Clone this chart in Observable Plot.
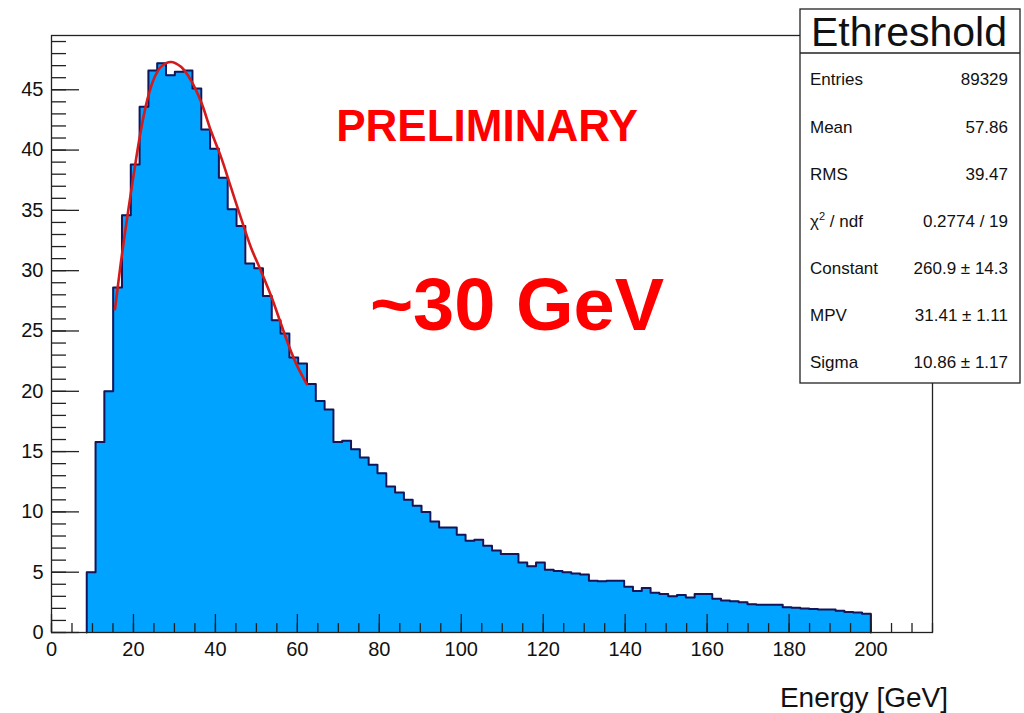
<!DOCTYPE html>
<html><head><meta charset="utf-8">
<script src="https://cdn.jsdelivr.net/npm/d3@7"></script>
<script src="https://cdn.jsdelivr.net/npm/@observablehq/plot@0.6"></script>
<style>html,body{margin:0;padding:0;background:#fff;} #chart{width:1024px;height:713px;}</style>
</head><body><div id="chart"></div>
<script>
// ---- data ----
const histTitle = "Ethreshold";
const histRange = [0, 215];
const nBins = 100;
const firstBin = 4;
const binCounts = [
  5.0, 15.8, 20.0, 28.6, 34.6, 38.8, 43.6, 46.6, 47.2, 46.2,
  46.5, 46.6, 45.1, 41.7, 40.1, 37.7, 35.1, 33.7, 30.6, 30.2,
  27.9, 25.9, 24.8, 22.8, 22.3, 20.6, 19.2, 18.5, 15.8, 15.9,
  15.2, 14.5, 13.9, 13.2, 12.1, 11.6, 11.0, 10.5, 10.0, 9.2,
  8.7, 8.7, 8.1, 7.6, 7.7, 7.2, 6.8, 6.5, 6.5, 5.8,
  5.5, 5.8, 5.2, 5.1, 5.0, 4.9, 4.8, 4.3, 4.25, 4.3,
  4.3, 3.8, 3.45, 3.7, 3.3, 3.2, 3.0, 3.1, 2.9, 3.2,
  3.2, 2.8, 2.65, 2.6, 2.5, 2.35, 2.3, 2.3, 2.3, 2.1,
  2.05, 2.0, 1.95, 1.9, 1.9, 1.8, 1.7, 1.65, 1.55
];
const fitX = [15.5, 16.9, 18.6, 20.2, 21.8, 23.4, 25.1, 26.7, 29.1, 31.6, 34.0, 36.5, 38.9, 41.4, 43.8, 46.2, 48.7, 51.1, 53.6, 56.0, 58.0, 60.1, 62.3];
const fitY = [26.8, 30.6, 34.7, 38.3, 41.6, 44.2, 46.0, 46.9, 47.3, 46.9, 45.8, 44.0, 41.6, 39.4, 36.9, 34.4, 31.9, 30.0, 27.9, 25.6, 23.7, 22.0, 20.6];
const xTickLabels = [0, 20, 40, 60, 80, 100, 120, 140, 160, 180, 200];
const yTickLabels = [0, 5, 10, 15, 20, 25, 30, 35, 40, 45];
const statLabels = ["Entries", "Mean", "RMS", "χ2 / ndf", "Constant", "MPV", "Sigma"];
const statValues = ["89329", "57.86", "39.47", "0.2774 / 19", "260.9 ± 14.3", "31.41 ± 1.11", "10.86 ± 1.17"];
const annotationTexts = ["PRELIMINARY", "~30 GeV"];
const xAxisTitle = "Energy [GeV]";

// ---- layout ----
const W = 1024, H = 713, mL = 51, mR = 92, mT = 35, mB = 81;
const frameW = W - mL - mR, frameH = H - mT - mB;
const FONT = "'Liberation Sans', Arial, Helvetica, sans-serif";
const AXC = "#222";

const binW = (histRange[1] - histRange[0]) / nBins;
const bins = binCounts.map((c, i) => ({
  x1: histRange[0] + (firstBin + i) * binW,
  x2: histRange[0] + (firstBin + i + 1) * binW,
  y: c
}));
const last = bins[bins.length - 1];
const outline = [{x: bins[0].x1, y: 0}, ...bins.map(b => ({x: b.x1, y: b.y})), {x: last.x2, y: last.y}, {x: last.x2, y: 0}];
const fitPts = fitX.map((x, i) => ({x, y: fitY[i]}));

const xMinor = d3.range(0, 216, 5);
const yMinor = d3.range(0, 50, 1);

const svg = Plot.plot({
  width: W, height: H,
  marginLeft: mL, marginRight: mR, marginTop: mT, marginBottom: mB,
  x: {domain: histRange},
  y: {domain: [0, 49.5]},
  style: {fontFamily: FONT, fontSize: "20px", color: "#111", background: "#fff"},
  marks: [
    Plot.areaY(outline, {x: "x", y: "y", curve: "step-after", fill: "#00a3ff"}),
    Plot.line(outline, {x: "x", y: "y", curve: "step-after", stroke: "#15155a", strokeWidth: 2}),
    Plot.line(fitPts, {x: "x", y: "y", curve: "catmull-rom", stroke: "#d41a1a", strokeWidth: 2.6}),
    Plot.ruleY(yMinor, {y: d => d, insetRight: frameW - 15, stroke: AXC, strokeWidth: 1.3}),
    Plot.ruleY(yTickLabels, {y: d => d, insetRight: frameW - 28, stroke: AXC, strokeWidth: 1.3}),
    Plot.ruleX(xMinor, {x: d => d, insetTop: frameH - 9, stroke: AXC, strokeWidth: 1.3}),
    Plot.ruleX(xTickLabels, {x: d => d, insetTop: frameH - 18, stroke: AXC, strokeWidth: 1.3}),
    Plot.frame({stroke: AXC, strokeWidth: 1.3}),
    Plot.axisX({ticks: xTickLabels, tickFormat: d => String(d), tickSize: 0, tickPadding: 9, fontSize: 20, label: null}),
    Plot.axisY({ticks: yTickLabels, tickFormat: d => String(d), tickSize: 0, tickPadding: 8, fontSize: 20, label: null})
  ]
});
document.getElementById("chart").appendChild(svg);

// ---- annotations ----
const s = d3.select(svg);
s.append("text").attr("x", 487).attr("y", 141).attr("text-anchor", "middle")
  .attr("font-family", FONT).attr("font-weight", "bold").attr("font-size", 44).attr("fill", "#ff0000")
  .text(annotationTexts[0]);
s.append("text").attr("x", 517).attr("y", 330).attr("text-anchor", "middle")
  .attr("font-family", FONT).attr("font-weight", "bold").attr("font-size", 74).attr("fill", "#ff0000")
  .text(annotationTexts[1]);
s.append("text").attr("x", 948).attr("y", 707).attr("text-anchor", "end")
  .attr("font-family", FONT).attr("font-size", 28).attr("fill", "#111")
  .text(xAxisTitle);

// stats box
const box = s.append("g").attr("font-family", FONT).attr("fill", "#111");
box.append("rect").attr("x", 800).attr("y", 9).attr("width", 220).attr("height", 374)
  .attr("fill", "#fff").attr("stroke", "#222").attr("stroke-width", 1.3);
box.append("line").attr("x1", 800).attr("x2", 1020).attr("y1", 53).attr("y2", 53)
  .attr("stroke", "#222").attr("stroke-width", 1.3);
box.append("text").attr("x", 909).attr("y", 46).attr("text-anchor", "middle")
  .attr("font-size", 41).text(histTitle);
const rowY = [79, 126.5, 173.5, 220.7, 268, 315, 361.7];
statLabels.forEach((lab, i) => {
  const t = box.append("text").attr("x", 810).attr("y", rowY[i] + 6)
    .attr("text-anchor", "start").attr("font-size", 17);
  if (lab.startsWith("χ2")) {
    t.append("tspan").text("χ");
    t.append("tspan").attr("font-size", 11).attr("dy", -7).text("2");
    t.append("tspan").attr("dy", 7).text(lab.slice(2));
  } else t.text(lab);
  box.append("text").attr("x", 1008).attr("y", rowY[i] + 6).attr("text-anchor", "end")
    .attr("font-size", 17).text(statValues[i]);
});
</script>
</body></html>
